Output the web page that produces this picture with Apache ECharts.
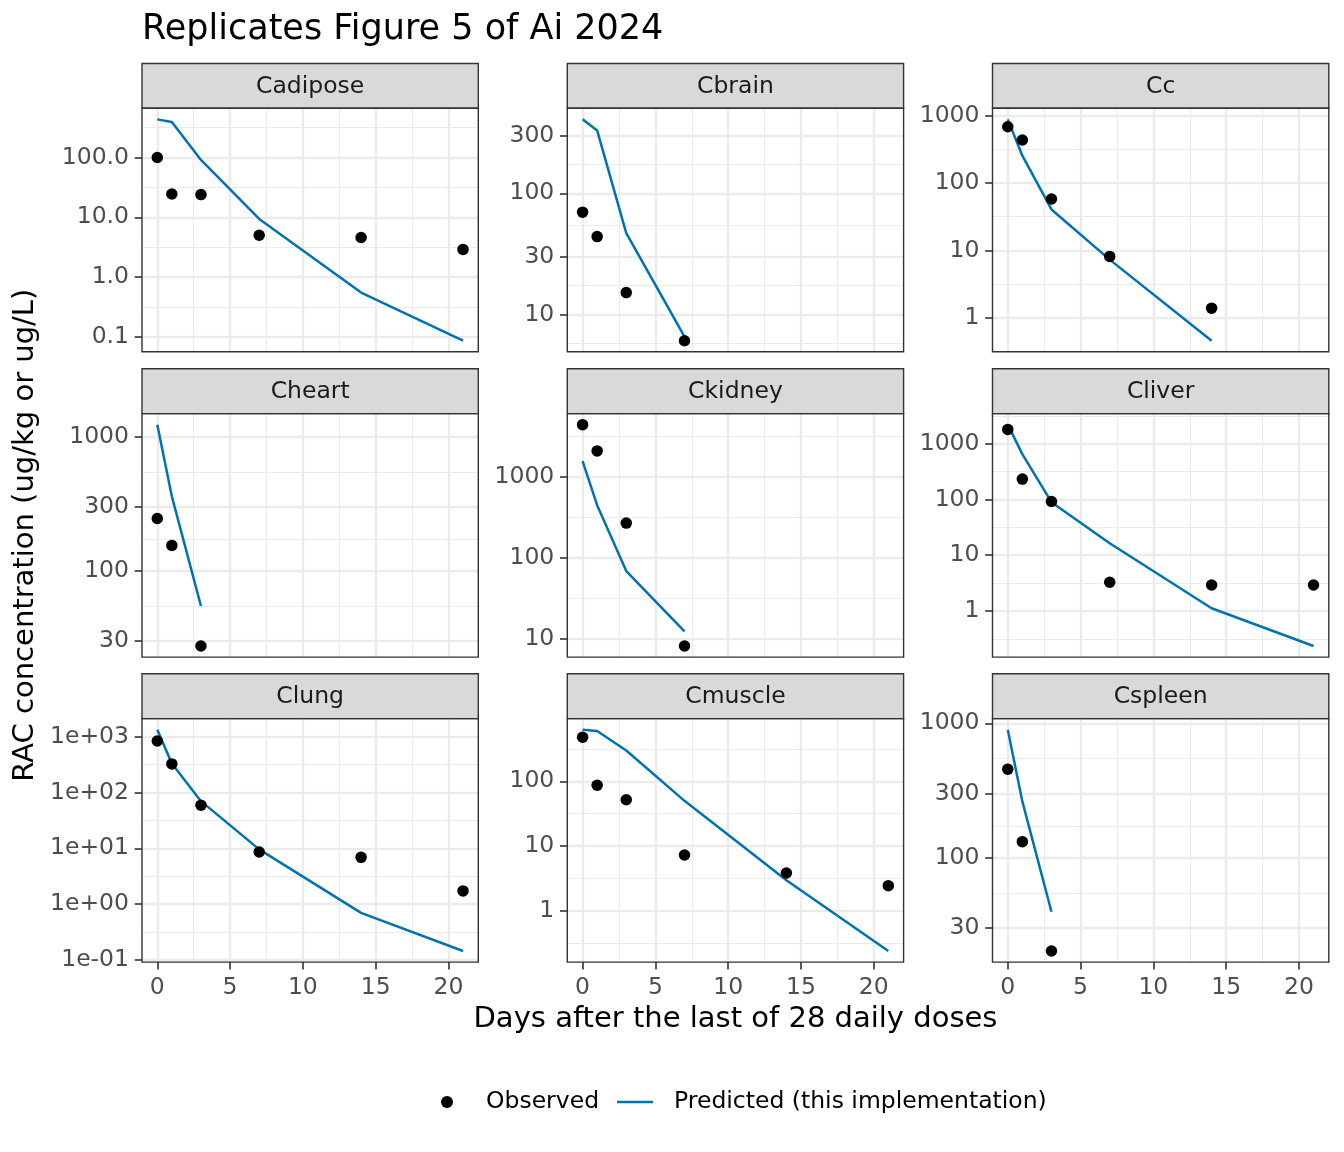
<!DOCTYPE html>
<html><head><meta charset="utf-8">
<script src="https://cdn.jsdelivr.net/npm/echarts@6/dist/echarts.min.js"></script>
<style>html,body{margin:0;padding:0;background:#fff}#c{width:1344px;height:1152px}</style>
</head><body><div id="c"></div>
<script>
// ---------------- data ----------------
const titleText = "Replicates Figure 5 of Ai 2024";
const xTitle = "Days after the last of 28 daily doses";
const yTitle = "RAC concentration (ug/kg or ug/L)";
const seriesObsName = "Observed";
const seriesPredName = "Predicted (this implementation)";

const xBreaks = [0, 5, 10, 15, 20];
const xLimits = [0, 21];

const days_Cadipose = [0, 1, 3, 7, 14, 21];
const obs_Cadipose  = [100, 24.5, 24, 5.0, 4.6, 2.9];
const pred_Cadipose = [435, 393, 91, 9.4, 0.55, 0.086];
const breaks_Cadipose = [0.1, 1, 10, 100];
const labels_Cadipose = ["0.1", "1.0", "10.0", "100.0"];

const days_Cbrain = [0, 1, 3, 7];
const obs_Cbrain  = [70, 44, 15.2, 6.1];
const pred_Cbrain = [407, 330, 47, 6.6];
const breaks_Cbrain = [10, 30, 100, 300];
const labels_Cbrain = ["10", "30", "100", "300"];

const days_Cc = [0, 1, 3, 7, 14];
const obs_Cc  = [687, 436, 58, 8.15, 1.39];
const pred_Cc = [883, 255, 40.6, 7.3, 0.456];
const breaks_Cc = [1, 10, 100, 1000];
const labels_Cc = ["1", "10", "100", "1000"];

const days_Cheart = [0, 1, 3];
const obs_Cheart  = [246, 155, 27.5];
const pred_Cheart = [1233, 360, 54.7];
const breaks_Cheart = [30, 100, 300, 1000];
const labels_Cheart = ["30", "100", "300", "1000"];

const days_Ckidney = [0, 1, 3, 7];
const obs_Ckidney  = [4430, 2100, 270, 8.2];
const pred_Ckidney = [1570, 449, 69, 12.4];
const breaks_Ckidney = [10, 100, 1000];
const labels_Ckidney = ["10", "100", "1000"];

const days_Cliver = [0, 1, 3, 7, 14, 21];
const obs_Cliver  = [1810, 232, 92, 3.27, 2.93, 2.93];
const pred_Cliver = [2200, 652, 89.6, 16.4, 1.12, 0.235];
const breaks_Cliver = [1, 10, 100, 1000];
const labels_Cliver = ["1", "10", "100", "1000"];

const days_Clung = [0, 1, 3, 7, 14, 21];
const obs_Clung  = [837, 325, 59.4, 8.6, 6.9, 1.73];
const pred_Clung = [1334, 330, 70, 9.6, 0.70, 0.145];
const breaks_Clung = [0.1, 1, 10, 100, 1000];
const labels_Clung = ["1e-01", "1e+00", "1e+01", "1e+02", "1e+03"];

const days_Cmuscle = [0, 1, 3, 7, 14, 21];
const obs_Cmuscle  = [479, 87, 52, 7.3, 3.85, 2.45];
const pred_Cmuscle = [628, 600, 299, 50, 2.97, 0.24];
const breaks_Cmuscle = [1, 10, 100];
const labels_Cmuscle = ["1", "10", "100"];

const days_Cspleen = [0, 1, 3];
const obs_Cspleen  = [457, 132, 20.3];
const pred_Cspleen = [898, 263, 39.8];
const breaks_Cspleen = [30, 100, 300, 1000];
const labels_Cspleen = ["30", "100", "300", "1000"];

const panels = [
  {name: "Cadipose", days: days_Cadipose, obs: obs_Cadipose, pred: pred_Cadipose, breaks: breaks_Cadipose, labels: labels_Cadipose},
  {name: "Cbrain",   days: days_Cbrain,   obs: obs_Cbrain,   pred: pred_Cbrain,   breaks: breaks_Cbrain,   labels: labels_Cbrain},
  {name: "Cc",       days: days_Cc,       obs: obs_Cc,       pred: pred_Cc,       breaks: breaks_Cc,       labels: labels_Cc},
  {name: "Cheart",   days: days_Cheart,   obs: obs_Cheart,   pred: pred_Cheart,   breaks: breaks_Cheart,   labels: labels_Cheart},
  {name: "Ckidney",  days: days_Ckidney,  obs: obs_Ckidney,  pred: pred_Ckidney,  breaks: breaks_Ckidney,  labels: labels_Ckidney},
  {name: "Cliver",   days: days_Cliver,   obs: obs_Cliver,   pred: pred_Cliver,   breaks: breaks_Cliver,   labels: labels_Cliver},
  {name: "Clung",    days: days_Clung,    obs: obs_Clung,    pred: pred_Clung,    breaks: breaks_Clung,    labels: labels_Clung},
  {name: "Cmuscle",  days: days_Cmuscle,  obs: obs_Cmuscle,  pred: pred_Cmuscle,  breaks: breaks_Cmuscle,  labels: labels_Cmuscle},
  {name: "Cspleen",  days: days_Cspleen,  obs: obs_Cspleen,  pred: pred_Cspleen,  breaks: breaks_Cspleen,  labels: labels_Cspleen}
];

// ---------------- layout / style ----------------
const FONT = "DejaVu Sans";
const colLeft = [142, 567.3, 992.5];
const panelW = 336.3;
const stripTop = [63.5, 368.8, 673.8];
const stripH = 44.8;
const panelH = 243.5;
const GRID_MAJOR = "#EBEBEB", GRID_W = 2.4, GRID_MINOR_W = 1.2;
const DARK = "#333333";
const BLUE = "#0072B2";

function expand(lo, hi) { const e = (hi - lo) * 0.05; return [lo - e, hi + e]; }
function minorBreaks(L, lim) {
  L = L.slice();
  const bd = L[1] - L[0];
  if (lim[0] < L[0]) L = [L[0] - bd].concat(L);
  if (lim[1] > L[L.length - 1]) L = L.concat([L[L.length - 1] + bd]);
  const m = [];
  for (let i = 0; i < L.length - 1; i++) m.push((L[i] + L[i + 1]) / 2);
  return m.filter(v => v > lim[0] && v < lim[1]);
}

const xRange = expand(xLimits[0], xLimits[1]);
const xMinorVals = minorBreaks(xBreaks, xRange);

const grids = [], xAxes = [], yAxes = [], series = [], graphics = [];

panels.forEach((p, i) => {
  const r = Math.floor(i / 3), c = i % 3;
  const left = colLeft[c], top = stripTop[r] + stripH;
  const isBottom = r === 2;
  grids.push({left: left, top: top, width: panelW, height: panelH, show: false, containLabel: false, outerBoundsMode: 'none'});

  const logs = p.obs.concat(p.pred).map(Math.log10);
  const yr = expand(Math.min.apply(null, logs), Math.max.apply(null, logs));
  const majL = p.breaks.map(Math.log10);
  const majIn = majL.filter(v => v >= yr[0] && v <= yr[1]);
  const minL = minorBreaks(majL, yr);

  // minor x (index 2i), major x (index 2i+1)
  xAxes.push({gridIndex: i, type: 'value', min: xRange[0], max: xRange[1], position: 'top',
    axisLine: {show: false, onZero: false}, axisLabel: {show: false},
    axisTick: {show: false, customValues: xMinorVals},
    splitLine: {show: true, lineStyle: {color: GRID_MAJOR, width: GRID_MINOR_W}}, z: 0});
  xAxes.push({gridIndex: i, type: 'value', min: xRange[0], max: xRange[1], position: 'bottom',
    axisLine: {show: false, onZero: false},
    axisTick: {show: isBottom, customValues: xBreaks, length: 7.3, lineStyle: {color: DARK, width: 1.6}},
    axisLabel: {show: isBottom, customValues: xBreaks, color: '#4D4D4D', fontSize: 23.5, fontFamily: FONT, margin: 13.5},
    splitLine: {show: true, lineStyle: {color: GRID_MAJOR, width: GRID_W}}, z: 1});

  yAxes.push({gridIndex: i, type: 'value', min: yr[0], max: yr[1], position: 'right',
    axisLine: {show: false, onZero: false}, axisLabel: {show: false},
    axisTick: {show: false, customValues: minL},
    splitLine: {show: true, lineStyle: {color: GRID_MAJOR, width: GRID_MINOR_W}}, z: 0});
  yAxes.push({gridIndex: i, type: 'value', min: yr[0], max: yr[1], position: 'left',
    axisLine: {show: false, onZero: false},
    axisTick: {show: true, customValues: majIn, length: 7.3, lineStyle: {color: DARK, width: 1.6}},
    axisLabel: {show: true, customValues: majIn, color: '#4D4D4D', fontSize: 23.5, fontFamily: FONT, margin: 13,
      formatter: function (v) {
        let best = 0, bd = Infinity;
        majL.forEach((m, k) => { const d = Math.abs(m - v); if (d < bd) { bd = d; best = k; } });
        return p.labels[best];
      }},
    splitLine: {show: true, lineStyle: {color: GRID_MAJOR, width: GRID_W}}, z: 1});

  series.push({type: 'line', name: seriesPredName, xAxisIndex: 2 * i + 1, yAxisIndex: 2 * i + 1,
    data: p.days.map((d, k) => [d, Math.log10(p.pred[k])]),
    symbol: 'none', showSymbol: false, lineStyle: {color: BLUE, width: 2.5, opacity: 1}, itemStyle: {color: BLUE, opacity: 1},
    z: 3, silent: true, animation: false});
  series.push({type: 'scatter', name: seriesObsName, xAxisIndex: 2 * i + 1, yAxisIndex: 2 * i + 1,
    data: p.days.map((d, k) => [d, Math.log10(p.obs[k])]),
    symbol: 'circle', symbolSize: 11.5, itemStyle: {color: '#000000', opacity: 1, borderWidth: 0},
    z: 4, silent: true, animation: false});

  // strip
  graphics.push({type: 'rect', shape: {x: left, y: stripTop[r], width: panelW, height: stripH},
    style: {fill: '#D9D9D9', stroke: DARK, lineWidth: 1.4}, z: 5});
  graphics.push({type: 'text', x: left + panelW / 2, y: stripTop[r] + stripH / 2 + 1,
    style: {text: p.name, fill: '#1A1A1A', fontSize: 23.5, fontFamily: FONT, align: 'center', verticalAlign: 'middle'}, z: 6});
  // panel border
  graphics.push({type: 'rect', shape: {x: left, y: top, width: panelW, height: panelH},
    style: {fill: 'none', stroke: DARK, lineWidth: 1.4}, z: 10, silent: true});
});

// titles
graphics.push({type: 'text', x: 142, y: 30,
  style: {text: titleText, fill: '#000000', fontSize: 35, fontFamily: FONT, align: 'left', verticalAlign: 'middle'}, z: 6});
graphics.push({type: 'text', x: 735.5, y: 1019,
  style: {text: xTitle, fill: '#000000', fontSize: 29, fontFamily: FONT, align: 'center', verticalAlign: 'middle'}, z: 6});
graphics.push({type: 'text', x: 25, y: 535.2, rotation: Math.PI / 2,
  style: {text: yTitle, fill: '#000000', fontSize: 29, fontFamily: FONT, align: 'center', verticalAlign: 'middle'}, z: 6});

const chart = echarts.init(document.getElementById('c'), null, {renderer: 'canvas'});
chart.setOption({
  backgroundColor: '#ffffff',
  animation: false,
  textStyle: {fontFamily: FONT},
  grid: grids,
  xAxis: xAxes,
  yAxis: yAxes,
  series: series,
  legend: {
    show: true, orient: 'horizontal', left: 441, top: 1090, padding: 0,
    itemWidth: 36, itemHeight: 12, itemGap: 18,
    textStyle: {fontSize: 23.5, fontFamily: FONT, color: '#000000', padding: [0, 0, 0, 16], lineHeight: 24},
    data: [
      {name: seriesObsName, icon: 'circle', itemStyle: {color: '#000000', opacity: 1}},
      {name: seriesPredName, icon: 'path://M0,0H36V2.5H0Z', itemStyle: {color: BLUE, opacity: 1}}
    ],
    selectedMode: false
  },
  graphic: {elements: graphics}
});
</script>
</body></html>
